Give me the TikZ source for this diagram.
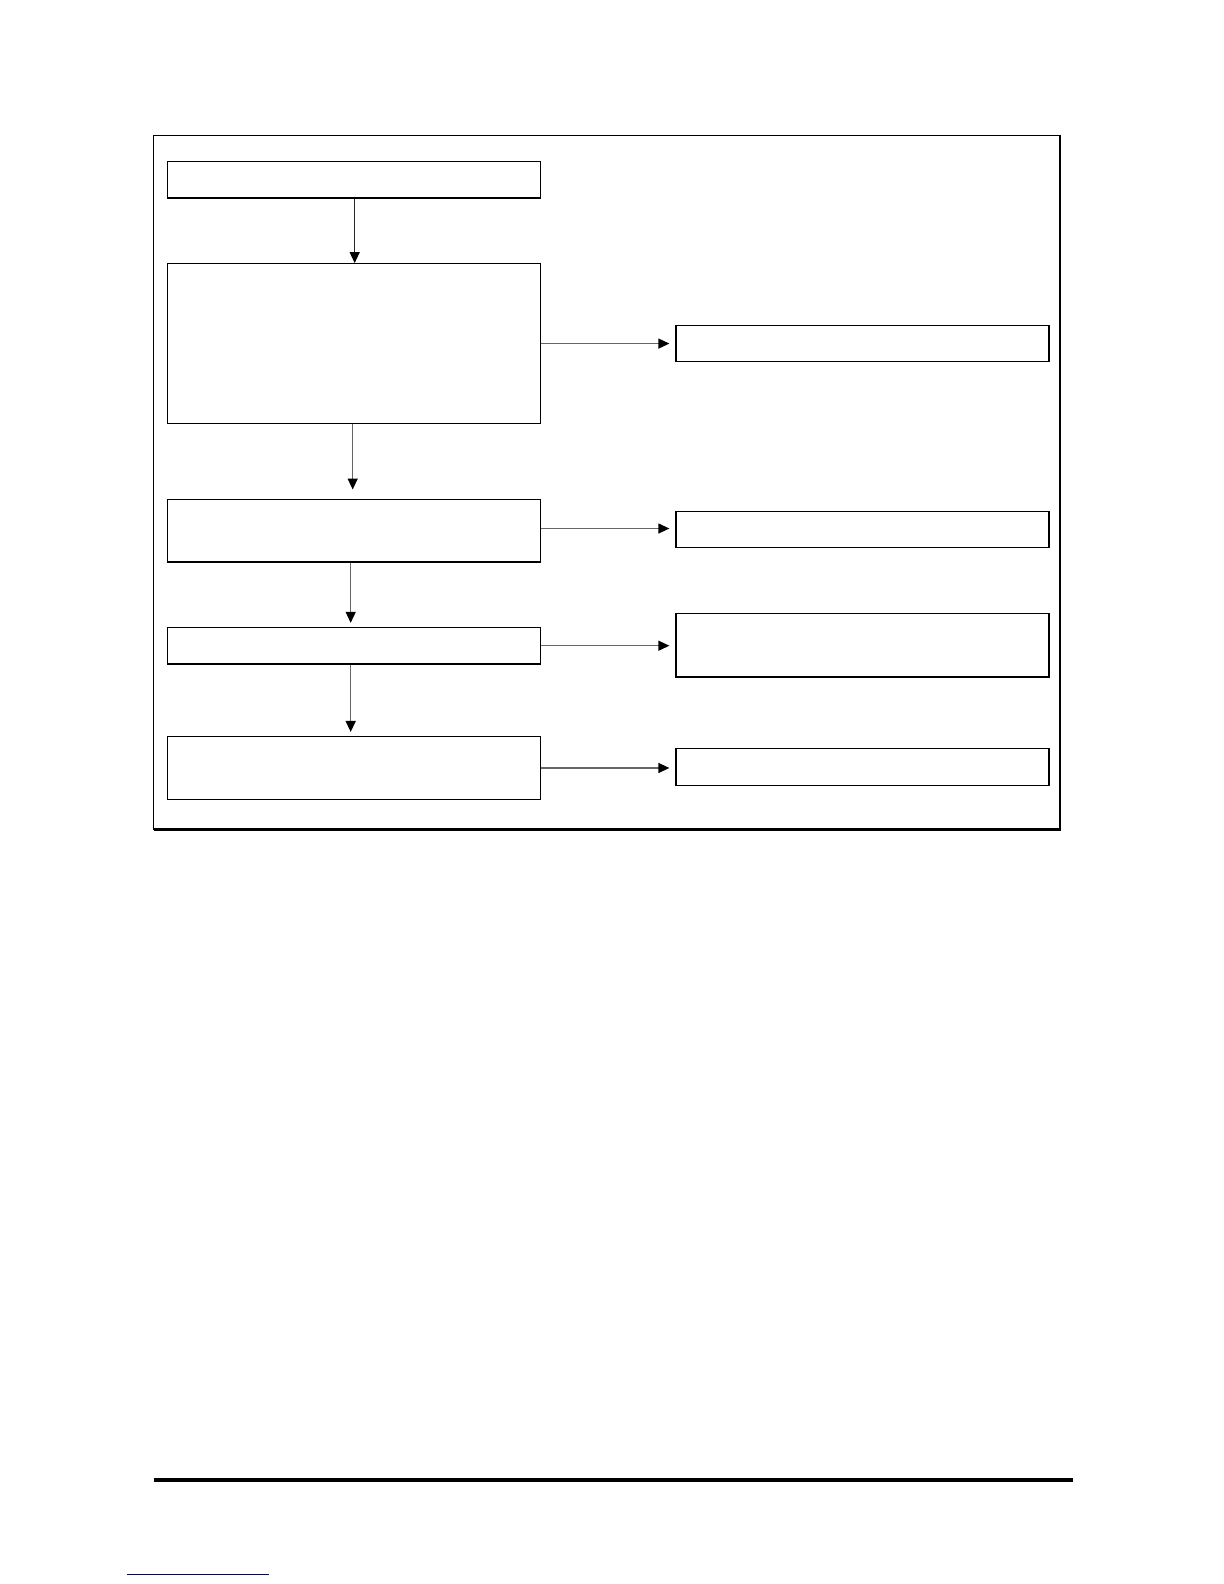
\documentclass[tikz,border=0pt]{standalone}
\usetikzlibrary{arrows.meta}
\begin{document}
\begin{tikzpicture}[x=1.0105pt,y=-1.0105pt,
  flowbox/.style={draw=black,line width=1.3pt,rectangle,inner sep=0pt,fill=white},
  conn/.style={draw=black!60,line width=1.3pt,-{Triangle[length=11pt,width=10pt,color=black]}}]
\useasboundingbox (0,0) rectangle (1211.28,1567.54);
\fill[white] (0,0) rectangle (1211.28,1567.54);
% outer frame
\draw[line width=1.5pt] (152,134) rectangle (1049,821);
\draw[line width=2.3pt] (1049,134) -- (1049,821) -- (152,821);
% left column
\node[flowbox,minimum width=372.9pt,minimum height=36.4pt] (A) at (350.5,178) {};
\node[flowbox,minimum width=372.9pt,minimum height=159.7pt] (B) at (350.5,340) {};
\node[flowbox,minimum width=372.9pt,minimum height=62.7pt] (C) at (350.5,525) {};
\node[flowbox,minimum width=372.9pt,minimum height=36.4pt] (D) at (350.5,639) {};
\node[flowbox,minimum width=372.9pt,minimum height=62.7pt] (E) at (350.5,760) {};
% right column
\node[flowbox,minimum width=372.9pt,minimum height=36.4pt] (R1) at (853.5,340) {};
\node[flowbox,minimum width=372.9pt,minimum height=36.4pt] (R2) at (853.5,524) {};
\node[flowbox,minimum width=372.9pt,minimum height=63.7pt] (R3) at (853.5,638.5) {};
\node[flowbox,minimum width=372.9pt,minimum height=36.4pt] (R4) at (853.5,759) {};
% vertical connectors
\draw[conn,draw=black!85] ([xshift=0.5pt]A.south) -- ([xshift=0.5pt]B.north);
\draw[conn,shorten >=9pt] ([xshift=-1.5pt]B.south) -- ([xshift=-1.5pt]C.north);
\draw[conn,shorten >=4pt] ([xshift=-3.5pt]C.south) -- ([xshift=-3.5pt]D.north);
\draw[conn,shorten >=4pt] ([xshift=-3.5pt]D.south) -- ([xshift=-3.5pt]E.north);
% horizontal connectors
\draw[conn,shorten >=6pt] (B.east) -- (B.east -| R1.west);
\draw[conn,shorten >=6pt] ([yshift=2pt]C.east) -- ([yshift=2pt]C.east -| R2.west);
\draw[conn,shorten >=6pt] (D.east) -- (D.east -| R3.west);
\draw[conn,shorten >=6pt] (E.east) -- (E.east -| R4.west);
% footer rule
\fill[black] (152,1463) rectangle (1062,1467);
\draw[blue!55!black,line width=1pt] (126,1558) -- (266,1558);
\end{tikzpicture}
\end{document}
